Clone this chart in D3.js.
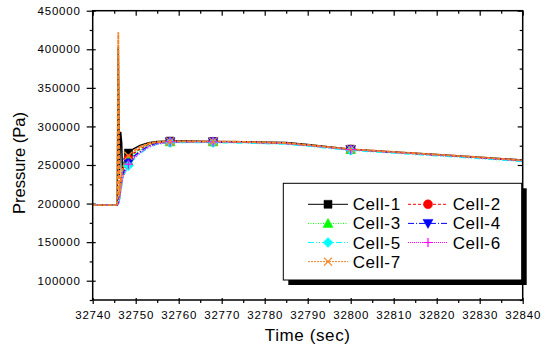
<!DOCTYPE html>
<html>
<head>
<meta charset="utf-8">
<script src="https://cdn.jsdelivr.net/npm/d3@7"></script>
<style>
  body { margin: 0; background: #fff; }
  svg { font-family: "Liberation Sans", Arial, sans-serif; }
  .tick text { font-size: 11.5px; letter-spacing: 0.8px; fill: #000; }
  .domain { display: none; }
</style>
</head>
<body>
<svg id="chart" width="547" height="349"></svg>
<script>
var times = [32740, 32745.7, 32745.95, 32746.2, 32746.5, 32746.75, 32746.9, 32747.35, 32748.3, 32749.5,
    32751, 32753, 32755, 32758, 32762, 32768, 32775, 32785, 32790, 32800, 32810, 32820, 32830, 32840];

var cell1 = [198000, 198000, 403000, 235000, 293000, 278000, 243500, 254300, 265500, 271000,
    275500, 279000, 280500, 281000, 281000, 280500, 280000, 279000, 276500, 270500, 267000, 263500, 260000, 256500];
var cell2 = [198000, 198000, 203000, 218000, 230000, 238000, 242000, 249000, 258000, 265000,
    271000, 276500, 279000, 280000, 280000, 280000, 279500, 278000, 275500, 270000, 266500, 263000, 259500, 255500];
var cell3 = [198000, 198000, 201000, 212000, 224000, 234000, 238000, 246000, 255000, 263000,
    269500, 275500, 278500, 280000, 280000, 280000, 279500, 278000, 275500, 270000, 266500, 263000, 259500, 255500];
var cell4 = [198000, 198000, 200000, 208000, 220000, 230000, 235000, 243000, 253000, 261000,
    267500, 274500, 278000, 280000, 280000, 280000, 279500, 278000, 275500, 270000, 266500, 263000, 259500, 255500];
var cell5 = [198000, 198000, 199000, 204000, 214000, 224000, 229000, 238000, 249000, 257000,
    265000, 272500, 277000, 279000, 279000, 279000, 278500, 277000, 274500, 269000, 265500, 262000, 258500, 254500];
var cell6 = [198000, 198000, 199000, 205000, 216000, 226000, 231000, 240000, 251000, 258500,
    266000, 273500, 277500, 280000, 280000, 280000, 279500, 278000, 275500, 270000, 266500, 263000, 259500, 255500];
var cell7 = [198000, 198000, 422000, 210000, 225000, 238000, 245000, 252000, 262000, 268000,
    273500, 278000, 280000, 280500, 280500, 280500, 280000, 278500, 276000, 270500, 267000, 263500, 260000, 256000];

var markerTimes = [32748.3, 32758, 32768, 32800];
var seriesNames = ['Cell-1', 'Cell-2', 'Cell-3', 'Cell-4', 'Cell-5', 'Cell-6', 'Cell-7'];
var xTicks = [32740, 32750, 32760, 32770, 32780, 32790, 32800, 32810, 32820, 32830, 32840];
var yTicks = [100000, 150000, 200000, 250000, 300000, 350000, 400000, 450000];

var seriesValues = [cell1, cell2, cell3, cell4, cell5, cell6, cell7];
var styles = [
    { color: '#000000', dash: null, marker: 'square' },
    { color: '#ff0000', dash: '3,2', marker: 'circle' },
    { color: '#00ff00', dash: '1,1.5', marker: 'triangle' },
    { color: '#0000ff', dash: '6,2,1,2', marker: 'triangleDown' },
    { color: '#00ffff', dash: '6,2,1,2,1,2', marker: 'diamond' },
    { color: '#ff00ff', dash: '1,1', marker: 'plus' },
    { color: '#f58220', dash: '2,1', marker: 'x' }
];

var plotLeft = 92.7, plotRight = 522.7, plotTop = 10.7, plotBottom = 300;
var svg = d3.select('#chart');

var x = d3.scaleLinear().domain([32740, 32840]).range([plotLeft, plotRight]);
var y = d3.scaleLinear().domain([75000, 450000]).range([plotBottom, plotTop]);

function markerPath(type) {
    switch (type) {
    case 'square': return 'M-4,-4H4V4H-4Z';
    case 'circle': return 'M-4.5,0A4.5,4.5 0 1,0 4.5,0A4.5,4.5 0 1,0 -4.5,0Z';
    case 'triangle': return 'M0,-5L5,4H-5Z';
    case 'triangleDown': return 'M0,5L5,-4H-5Z';
    case 'diamond': return 'M0,-5L5,0L0,5L-5,0Z';
    case 'plus': return 'M-4.5,0H4.5M0,-4.5V4.5';
    case 'x': return 'M-4,-4L4,4M-4,4L4,-4';
    }
}

function drawMarker(g, style, px, py) {
    var stroked = style.marker === 'plus' || style.marker === 'x';
    g.append('path')
        .attr('d', markerPath(style.marker))
        .attr('transform', 'translate(' + px + ',' + py + ')')
        .attr('fill', stroked ? 'none' : style.color)
        .attr('stroke', style.color)
        .attr('stroke-width', stroked ? 1.2 : 0.5);
}

// minor ticks
var minorX = d3.range(32745, 32840, 10);
var minorY = d3.range(75000, 450001, 50000);

svg.append('g').attr('transform', 'translate(0,' + plotBottom + ')')
    .call(d3.axisBottom(x).tickValues(xTicks).tickSize(4).tickPadding(7).tickFormat(d3.format('d')));
svg.append('g').attr('transform', 'translate(0,' + plotBottom + ')')
    .call(d3.axisBottom(x).tickValues(xTicks).tickSize(-2).tickFormat(''));
svg.append('g').attr('transform', 'translate(0,' + plotBottom + ')')
    .call(d3.axisBottom(x).tickValues(minorX).tickSize(3).tickFormat(''));
svg.append('g').attr('transform', 'translate(0,' + plotTop + ')')
    .call(d3.axisTop(x).tickValues(xTicks).tickSize(-5).tickFormat(''));
svg.append('g').attr('transform', 'translate(0,' + plotTop + ')')
    .call(d3.axisTop(x).tickValues(minorX).tickSize(-3).tickFormat(''));

svg.append('g').attr('transform', 'translate(' + plotLeft + ',0)')
    .call(d3.axisLeft(y).tickValues(yTicks).tickSize(6).tickPadding(6).tickFormat(d3.format('d')));
svg.append('g').attr('transform', 'translate(' + plotLeft + ',0)')
    .call(d3.axisLeft(y).tickValues(yTicks).tickSize(-3).tickFormat(''));
svg.append('g').attr('transform', 'translate(' + plotLeft + ',0)')
    .call(d3.axisLeft(y).tickValues(minorY).tickSize(3).tickFormat(''));
svg.append('g').attr('transform', 'translate(' + plotRight + ',0)')
    .call(d3.axisRight(y).tickValues(yTicks).tickSize(-5).tickFormat(''));
svg.append('g').attr('transform', 'translate(' + plotRight + ',0)')
    .call(d3.axisRight(y).tickValues(minorY).tickSize(-3).tickFormat(''));

svg.selectAll('.tick line').attr('stroke', '#000').attr('stroke-width', 1.2);

// series lines
var line = d3.line()
    .x(function(d) { return x(d[0]); })
    .y(function(d) { return y(d[1]); });

seriesValues.forEach(function(vals, i) {
    var pts = times.map(function(t, j) { return [t, vals[j]]; });
    svg.append('path')
        .datum(pts)
        .attr('d', line)
        .attr('fill', 'none')
        .attr('stroke', styles[i].color)
        .attr('stroke-width', i === 6 ? 1.8 : 1.5)
        .attr('stroke-dasharray', i === 6 ? '4,1' : styles[i].dash);
});

seriesValues.forEach(function(vals, i) {
    var g = svg.append('g');
    markerTimes.forEach(function(t) {
        var j = times.indexOf(t);
        drawMarker(g, styles[i], x(t), y(vals[j]));
    });
});

// frame
svg.append('rect')
    .attr('x', plotLeft).attr('y', plotTop)
    .attr('width', plotRight - plotLeft).attr('height', plotBottom - plotTop)
    .attr('fill', 'none').attr('stroke', '#000').attr('stroke-width', 1.5);

// legend
var lg = svg.append('g');
lg.append('rect').attr('x', 288.3).attr('y', 188.3).attr('width', 238.4).attr('height', 96.7).attr('fill', '#000');
lg.append('rect').attr('x', 283.3).attr('y', 183.3).attr('width', 238.4).attr('height', 96.7)
    .attr('fill', '#fff').attr('stroke', '#000').attr('stroke-width', 1);

seriesNames.forEach(function(name, i) {
    var col = i % 2;
    var row = Math.floor(i / 2);
    var lx = 308 + col * 100;
    var ly = 204.3 + row * 19.1;
    lg.append('line')
        .attr('x1', lx).attr('x2', lx + 40).attr('y1', ly).attr('y2', ly)
        .attr('stroke', styles[i].color).attr('stroke-width', 1)
        .attr('stroke-dasharray', styles[i].dash);
    drawMarker(lg, styles[i], lx + 20, ly);
    lg.append('text')
        .attr('x', lx + 44.7).attr('y', ly + 6)
        .attr('font-size', 17)
        .style('letter-spacing', '0.6px')
        .text(name);
});

// axis titles
svg.append('text')
    .attr('x', (plotLeft + plotRight) / 2).attr('y', 341)
    .attr('text-anchor', 'middle').attr('font-size', 17)
    .style('letter-spacing', '0.6px')
    .text('Time (sec)');
svg.append('text')
    .attr('transform', 'translate(25,163) rotate(-90)')
    .attr('text-anchor', 'middle').attr('font-size', 16.5)
    .text('Pressure (Pa)');
</script>
</body>
</html>
